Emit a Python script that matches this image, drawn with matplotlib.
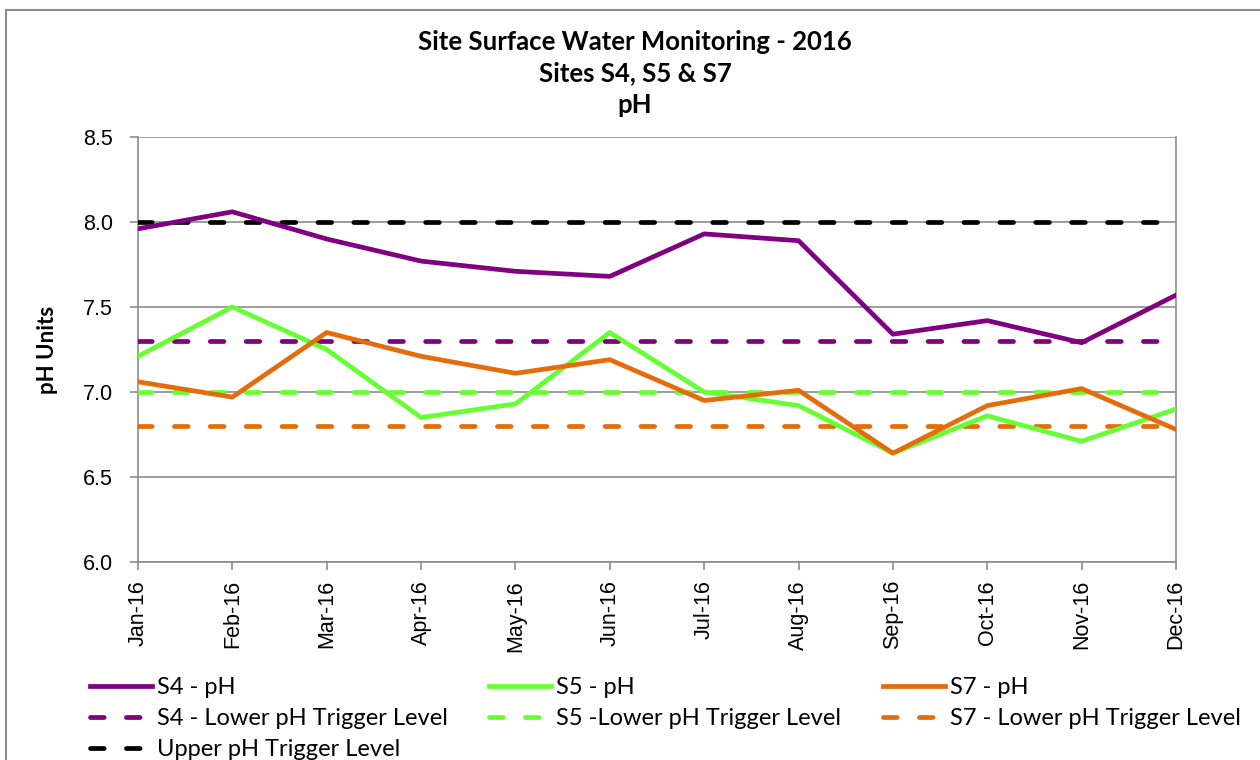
import matplotlib.pyplot as plt
from matplotlib.lines import Line2D
import numpy as np

plt.rcParams['font.family'] = ['Lato', 'DejaVu Sans']

months = ['Jan-16', 'Feb-16', 'Mar-16', 'Apr-16', 'May-16', 'Jun-16',
          'Jul-16', 'Aug-16', 'Sep-16', 'Oct-16', 'Nov-16', 'Dec-16']

# measured pH per site
s4_ph = [7.96, 8.06, 7.90, 7.77, 7.71, 7.68, 7.93, 7.89, 7.34, 7.42, 7.29, 7.57]
s5_ph = [7.21, 7.50, 7.25, 6.85, 6.93, 7.35, 7.00, 6.92, 6.64, 6.86, 6.71, 6.90]
s7_ph = [7.06, 6.97, 7.35, 7.21, 7.11, 7.19, 6.95, 7.01, 6.64, 6.92, 7.02, 6.78]

# trigger levels
s4_lower = 7.3
s5_lower = 7.0
s7_lower = 6.8
upper = 8.0

purple = '#800080'
green = '#66FF33'
orange = '#E46C0A'
grey = '#8C8C8C'

fig = plt.figure(figsize=(12.6, 7.6), dpi=100)
ax = fig.add_axes([138/1260, 1 - 562/760, (1176 - 138)/1260, (562 - 137)/760])

x = np.arange(len(months))
lw = 3.4
dash = (2.9, 4.7)

ax.plot(x, s4_ph, color=purple, lw=lw, label='S4 - pH', zorder=5)
ax.plot(x, [s4_lower]*len(x), color=purple, lw=lw, dashes=dash,
        dash_capstyle='round', label='S4 - Lower pH Trigger Level', zorder=4)
ax.plot(x, [upper]*len(x), color='black', lw=lw, dashes=dash,
        dash_capstyle='round', label='Upper pH Trigger Level', zorder=4)
ax.plot(x, s5_ph, color=green, lw=lw, label='S5 - pH', zorder=5)
ax.plot(x, [s5_lower]*len(x), color=green, lw=lw, dashes=dash,
        dash_capstyle='round', label='S5 -Lower pH Trigger Level', zorder=4)
ax.plot(x, s7_ph, color=orange, lw=lw, label='S7 - pH', zorder=6)
ax.plot(x, [s7_lower]*len(x), color=orange, lw=lw, dashes=dash,
        dash_capstyle='round', label='S7 - Lower pH Trigger Level', zorder=4)

tick_font = ['Liberation Sans', 'DejaVu Sans']
ax.set_xlim(0, len(x) - 1)
ax.set_ylim(6.0, 8.5)
yt = np.arange(6.0, 8.51, 0.5)
ax.set_yticks(yt)
ax.set_yticklabels([f'{v:.1f}' for v in yt], fontsize=15.5, family=tick_font)
ax.set_xticks(x)
ax.set_xticklabels(months, rotation=90, fontsize=15.5, family=tick_font)
ax.grid(axis='y', color=grey, lw=1.2)
ax.set_axisbelow(True)

for side in ['left', 'bottom', 'right']:
    ax.spines[side].set_color(grey)
    ax.spines[side].set_linewidth(1.2)
ax.spines['top'].set_visible(False)
ax.tick_params(axis='both', color=grey, width=1.2, length=6, direction='out')
ax.tick_params(axis='y', pad=12)
ax.tick_params(axis='x', pad=7)

ax.set_ylabel('pH Units', fontsize=16, fontweight='bold', labelpad=18)

title_lines = ['Site Surface Water Monitoring - 2016', 'Sites S4, S5 & S7', 'pH']
for ypix, line in zip([42, 73, 105], title_lines):
    fig.text(0.504, 1 - ypix/760, line, ha='center', va='center',
             fontsize=18.5, fontweight='bold')

fig.legend(loc='upper left', bbox_to_anchor=(90/1260, 1 - 677/760), ncol=3,
           frameon=False, fontsize=17, handlelength=2.63, handletextpad=0.21,
           columnspacing=1.75, labelspacing=0.42, borderpad=0, borderaxespad=0)

# chart border (left and top edges)
fig.add_artist(Line2D([6/1260, 6/1260], [0, 1 - 10/760], transform=fig.transFigure,
                      color=grey, lw=1.5))
fig.add_artist(Line2D([6/1260, 1], [1 - 10/760, 1 - 10/760], transform=fig.transFigure,
                      color=grey, lw=1.5))

fig.savefig('out.png', dpi=100)
